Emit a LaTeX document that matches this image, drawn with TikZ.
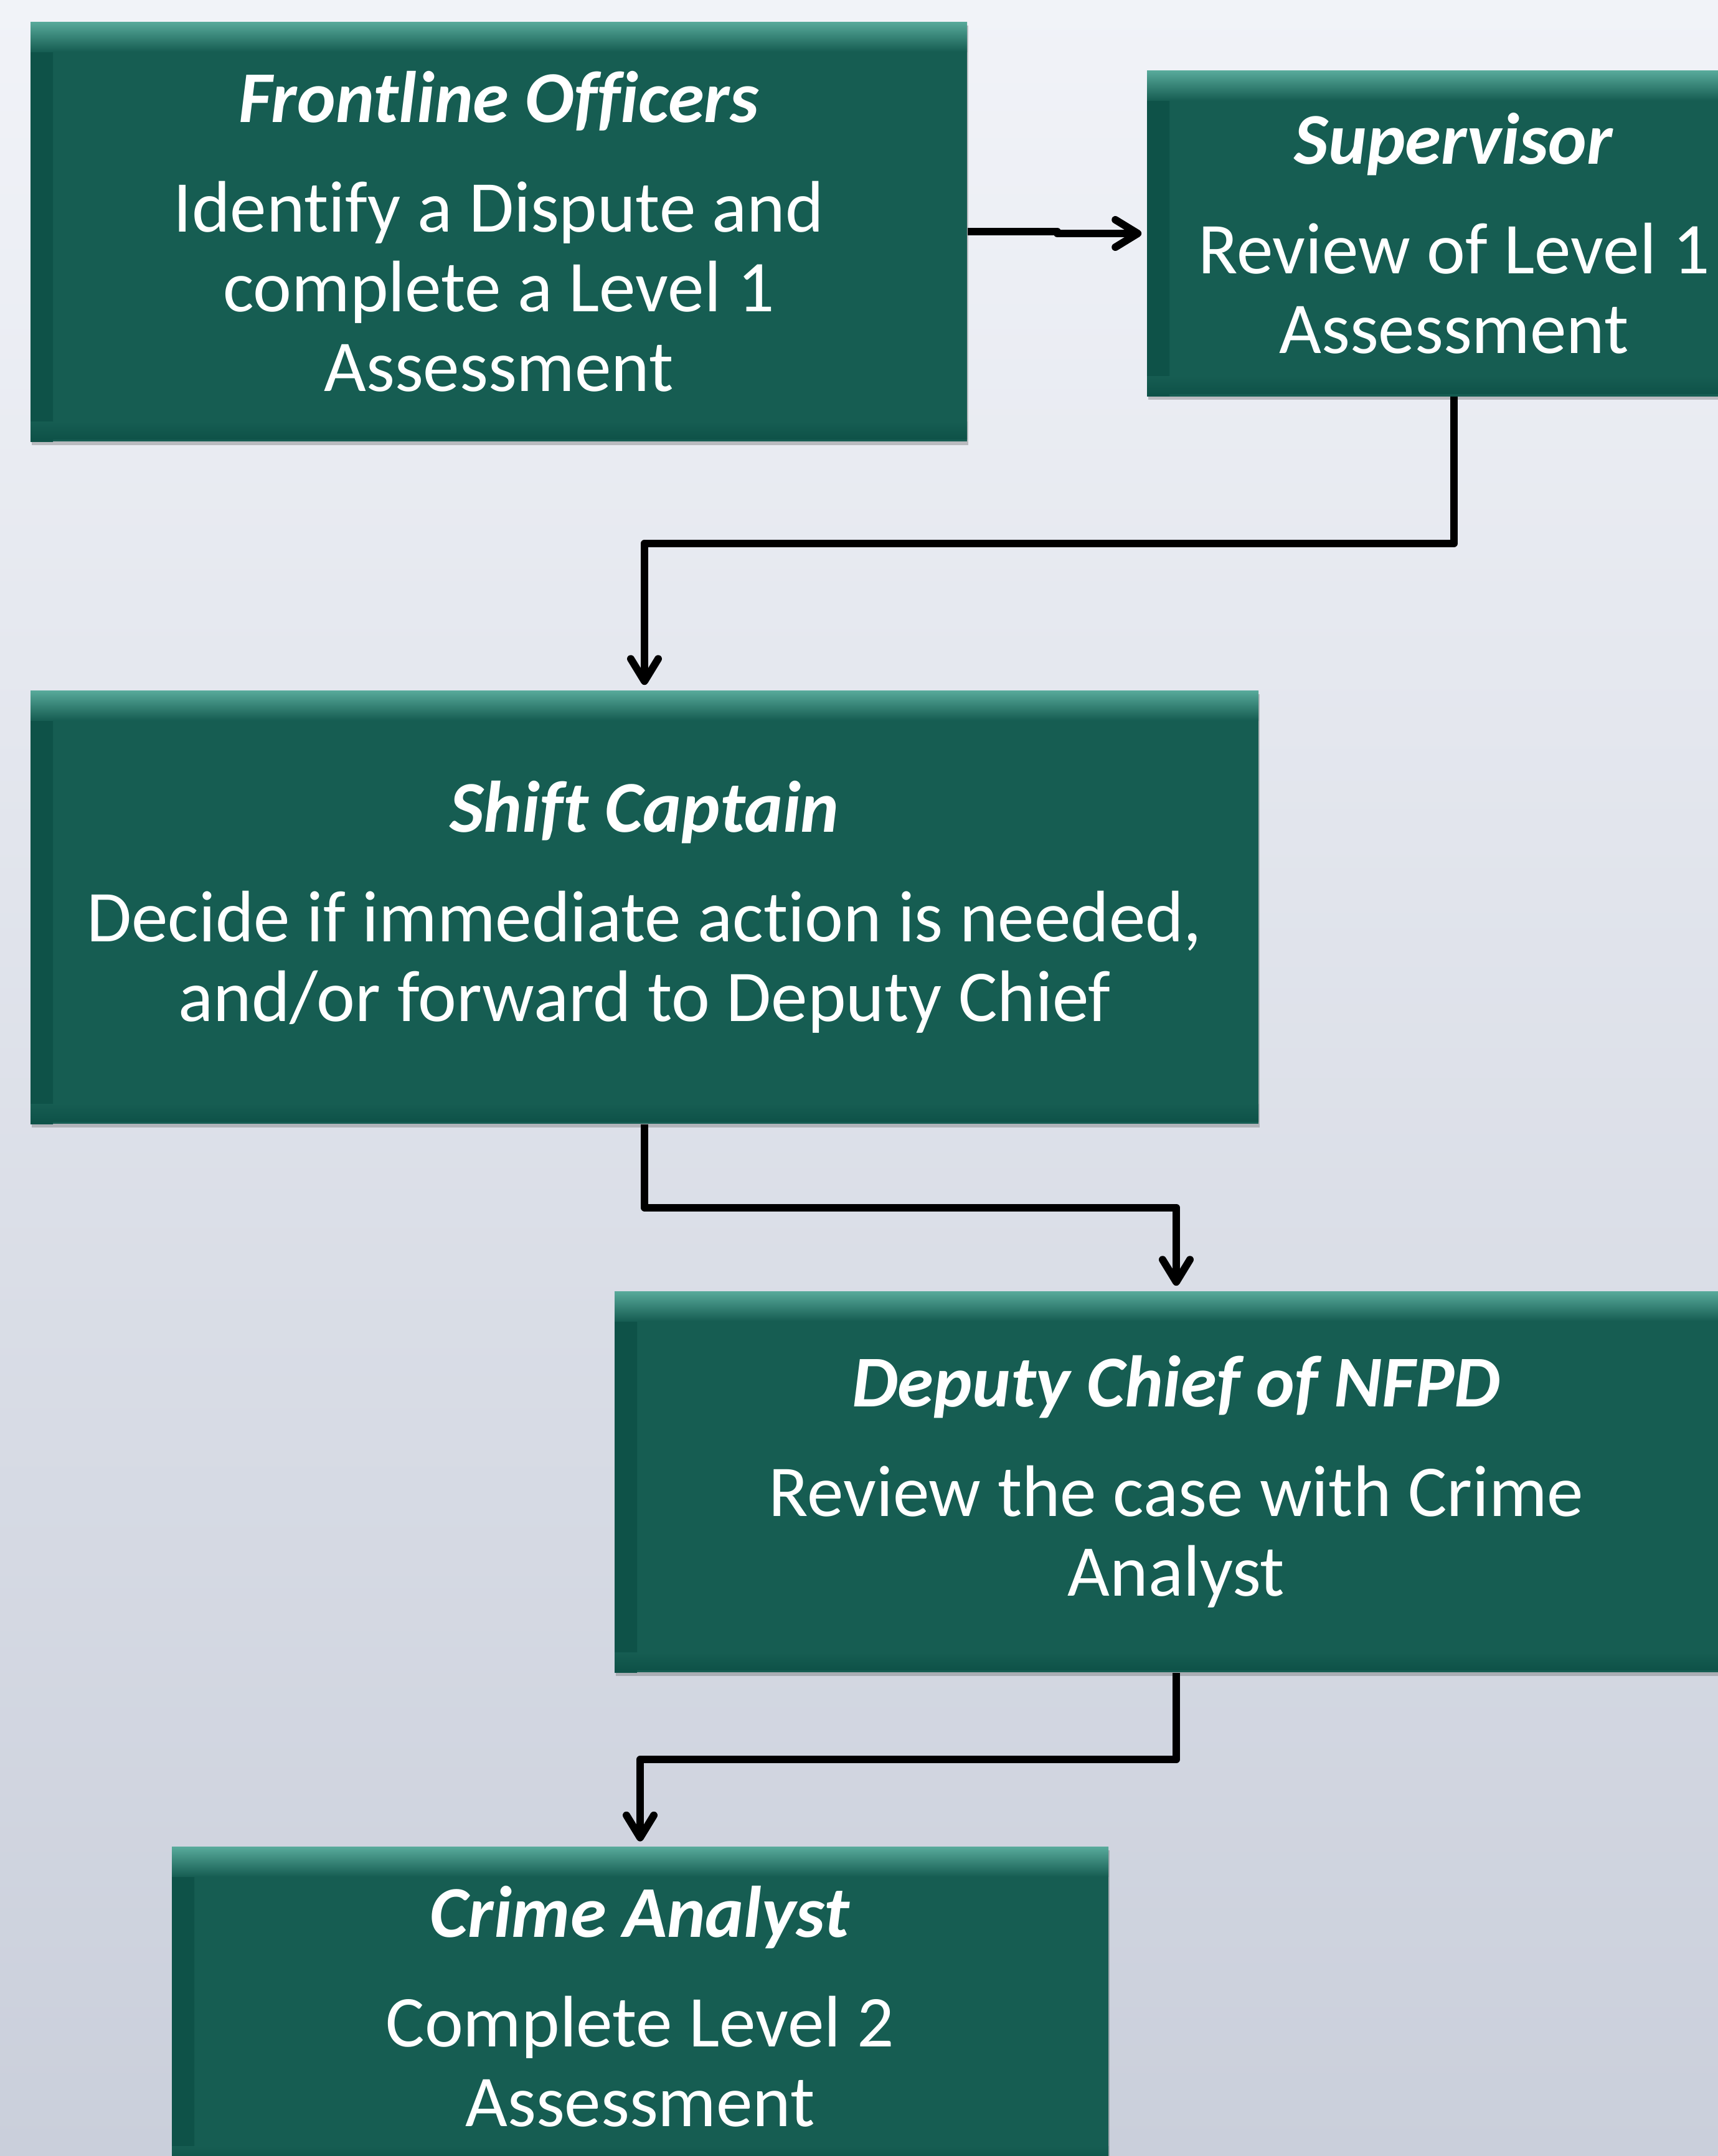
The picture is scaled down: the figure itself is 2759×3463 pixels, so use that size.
\documentclass[tikz,border=0pt]{standalone}
\usepackage{fontspec}
\setmainfont[Ligatures=NoCommon]{Carlito}
\usetikzlibrary{arrows.meta,calc,shadows}
\definecolor{boxfill}{RGB}{22,93,82}
\definecolor{boxlight}{RGB}{88,170,155}
\definecolor{boxdark}{RGB}{14,82,72}
\definecolor{bgtop}{RGB}{241,243,248}
\definecolor{bgbot}{RGB}{202,207,219}
\tikzset{
  flowbox/.style={fill=boxfill, draw=none, text=white, align=center, inner sep=0pt,
    font=\fontsize{29.3}{32}\selectfont,
    drop shadow={shadow xshift=0.6pt, shadow yshift=-1.4pt, opacity=0.3, fill=black!70},
    path picture={
      \shade[left color=boxdark, right color=boxfill]
        (path picture bounding box.north west) rectangle ([xshift=9pt]path picture bounding box.south west);
      \shade[top color=boxfill, bottom color=boxdark]
        ([yshift=8pt]path picture bounding box.south west) rectangle ([yshift=1pt]path picture bounding box.south east);
      \shade[top color=boxlight, bottom color=boxfill]
        (path picture bounding box.north west) rectangle ([yshift=-12pt]path picture bounding box.north east);
    }},
  conn/.style={line width=3pt, line join=round,
    -{Straight Barb[length=9pt,width=11pt,line cap=round,line join=round]}, shorten >=2pt},
}
\begin{document}
\begin{tikzpicture}[x=0.25pt,y=-0.25pt]
\useasboundingbox (0,0) rectangle (2759,3463);
\clip (0,0) rectangle (2759,3463);
\shade[top color=bgtop, bottom color=bgbot] (0,0) rectangle (2759,3463);

\node[flowbox, minimum width=376pt, minimum height=168.5pt] (b1) at (801,372)
  {\textbf{\textit{Frontline Officers}}\\[12pt]Identify a Dispute and\\complete a Level 1\\Assessment};
\node[flowbox, minimum width=246.5pt, minimum height=130.75pt] (b2) at (2335,375)
  {\textbf{\textit{Supervisor}}\\[12pt]Review of Level 1\\Assessment};
\node[flowbox, minimum width=493pt, minimum height=174pt] (b3) at (1035,1457)
  {\textbf{\textit{Shift Captain}}\\[12pt]Decide if immediate action is needed,\\and/or forward to Deputy Chief};
\node[flowbox, minimum width=451pt, minimum height=153pt] (b4) at (1889,2380)
  {\textbf{\textit{Deputy Chief of NFPD}}\\[12pt]Review the case with Crime\\Analyst};
\node[flowbox, minimum width=376pt, minimum height=128.25pt] (b5) at (1028,3223)
  {\textbf{\textit{Crime Analyst}}\\[12pt]Complete Level 2\\Assessment};

\path (b2.south) -- (b3.north) coordinate[pos=0.5] (m1);
\path (b3.south) -- (b4.north) coordinate[pos=0.5] (m2);
\path (b4.south) -- (b5.north) coordinate[pos=0.5] (m3);

\draw[conn] (b1.east) -- ++(144,0) |- (b2.west);
\draw[conn] (b2.south) -- (b2.south |- m1) -| (b3.north);
\draw[conn] (b3.south) -- (b3.south |- m2) -| (b4.north);
\draw[conn] (b4.south) -- (b4.south |- m3) -| (b5.north);
\end{tikzpicture}
\end{document}
